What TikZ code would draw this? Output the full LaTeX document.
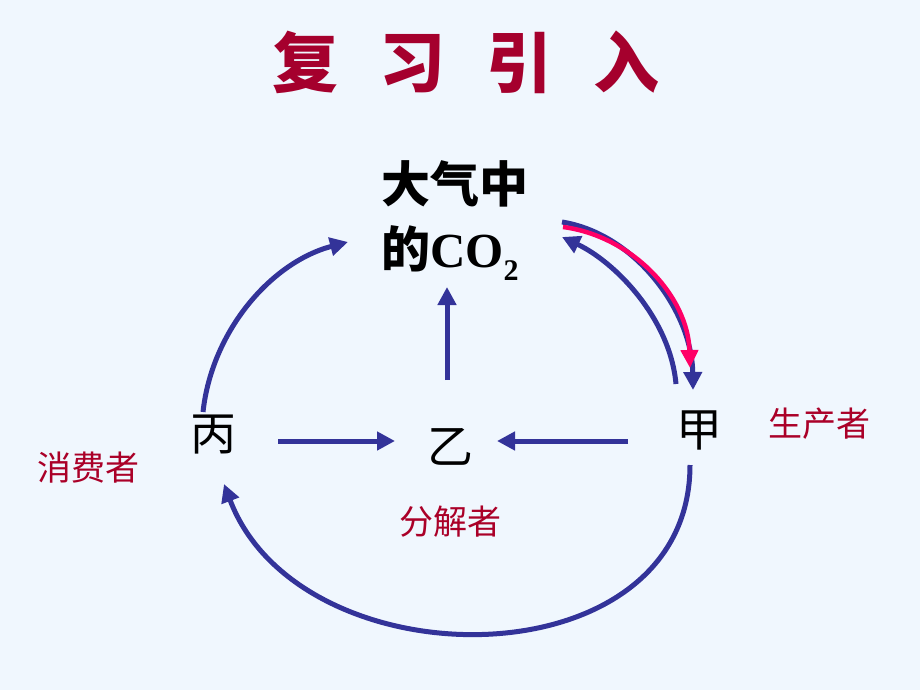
\documentclass[tikz,border=0pt]{standalone}
\usepackage{fontspec}
\setmainfont{Liberation Serif}
\newfontfamily\cjk{Noto Sans CJK SC}
\usetikzlibrary{arrows.meta}
\definecolor{bgblue}{RGB}{240,247,254}
\definecolor{titlered}{RGB}{165,0,45}
\definecolor{roleRed}{RGB}{170,0,40}
\definecolor{arrowblue}{RGB}{51,51,153}
\definecolor{arrowpink}{RGB}{255,0,102}

\tikzset{
  flow/.style={draw=arrowblue, line width=5pt, -{Triangle[length=18pt,width=18pt]}},
  flowpink/.style={draw=arrowpink, line width=4.5pt, -{Triangle[length=18pt,width=17pt]}},
  species/.style={inner sep=0pt, font=\cjk\fontsize{46}{52}\selectfont},
  role/.style={inner sep=0pt, text=roleRed, font=\cjk\fontsize{34}{40}\selectfont},
}

\begin{document}
\begin{tikzpicture}[x=1pt, y=-1pt]
  \fill[bgblue] (0,0) rectangle (920,690);
  \useasboundingbox (0,0) rectangle (920,690);

  % title
  \node[inner sep=0pt, text=titlered, font=\cjk\bfseries\fontsize{66}{70}\selectfont] (title) at (466,62)
    {复\hspace{41pt}习\hspace{41pt}引\hspace{41pt}入};

  % the carbon pool and the three groups
  \node[inner sep=0pt, anchor=north west, align=left, font=\fontsize{49}{65}\selectfont\bfseries] (co2) at (381,160)
    {{\cjk 大气中}\\{\cjk 的}CO\raisebox{-0.28em}{\fontsize{30}{30}\selectfont 2}};
  \node[species] (bing) at (213,435) {丙};
  \node[species] (yi) at (450,447) {乙};
  \node[species] (jia) at (699,430) {甲};

  \node[role] (consumer) at (88,468) {消费者};
  \node[role] (decomposer) at (450,522) {分解者};
  \node[role] (producer) at (819,424) {生产者};

  % arrow ends
  \coordinate (bingE) at (278,441);
  \coordinate (yiW) at (395,441);
  \coordinate (jiaW) at (628,441);
  \coordinate (yiE) at (497,441);
  \coordinate (yiN) at (447,380);
  \coordinate (co2S) at (447,287);
  \coordinate (bingN) at (203,412);
  \coordinate (co2W) at (348,242);
  \coordinate (jiaS) at (690,465);
  \coordinate (bingS) at (224,484);
  \coordinate (co2E) at (562,222);
  \coordinate (jiaN) at (693,390);
  \coordinate (jiaNb) at (676,384);
  \coordinate (co2Eb) at (562,237);
  \coordinate (co2Ep) at (563,227);
  \coordinate (jiaNp) at (690,368);

  \draw[flow] (bingE) -- (yiW);
  \draw[flow] (jiaW) -- (yiE);
  \draw[flow] (yiN) -- (co2S);
  \draw[flow] (bingN) .. controls (212,330) and (272,262) .. (co2W);
  \draw[flow] (jiaS) .. controls (690,685) and (300,685) .. (bingS);
  \draw[flow] (co2E) .. controls (636,234) and (692,312) .. (jiaN);
  \draw[flow] (jiaNb) .. controls (670,318) and (615,262) .. (co2Eb);
  \draw[flowpink] (co2Ep) .. controls (632,236) and (688,296) .. (jiaNp);
\end{tikzpicture}
\end{document}
